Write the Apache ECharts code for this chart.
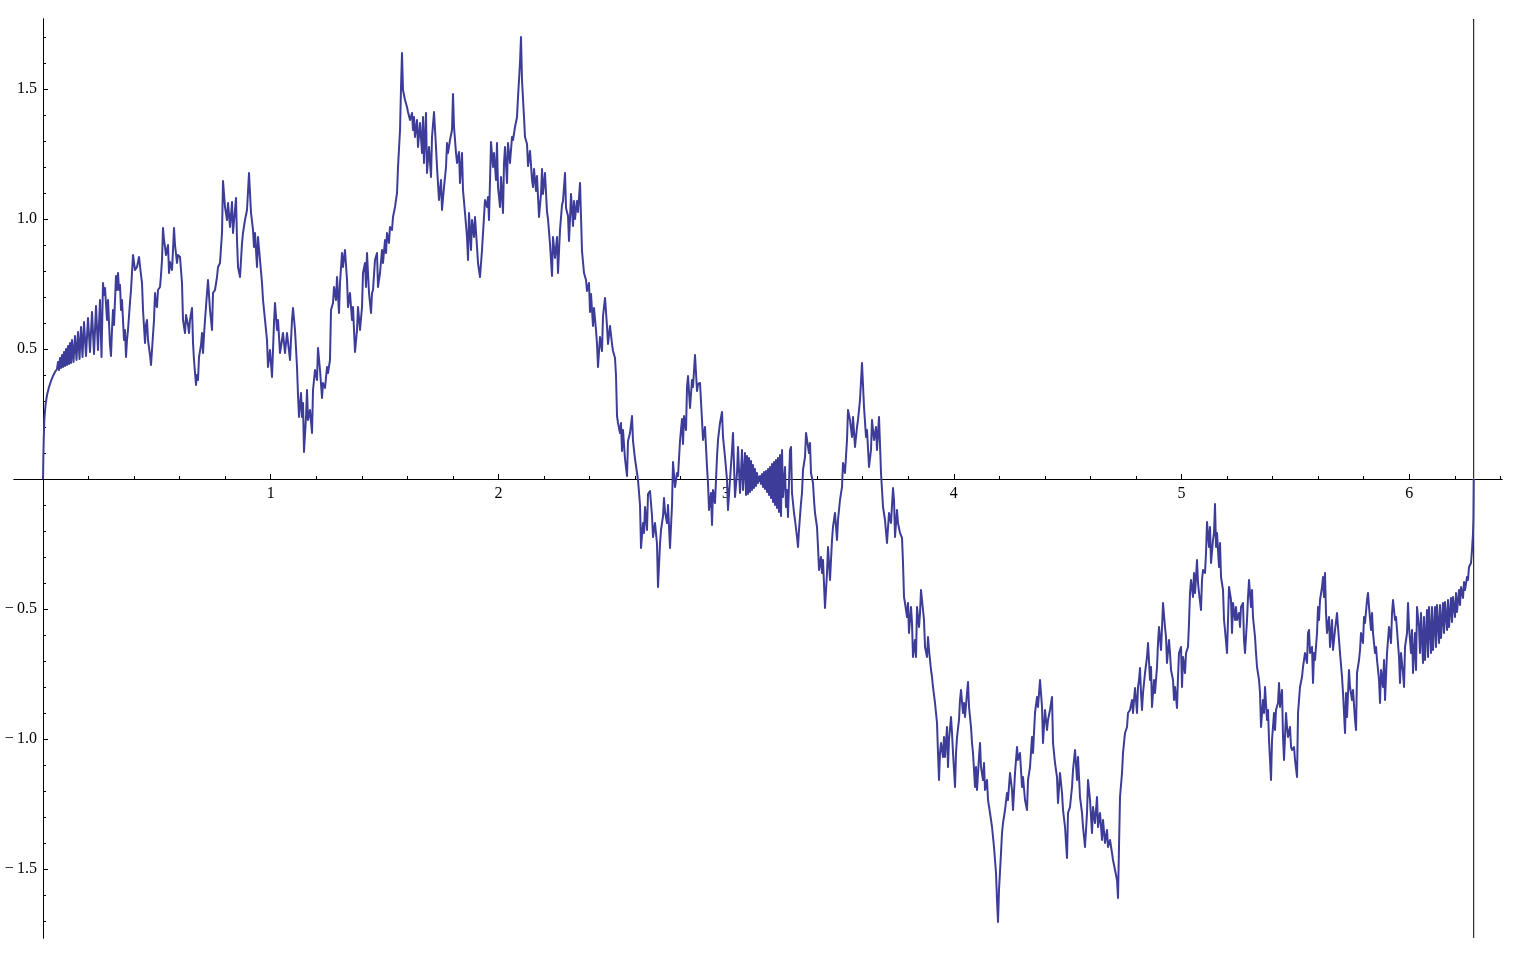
<!DOCTYPE html>
<html>
<head>
<meta charset="utf-8">
<script src="https://cdn.jsdelivr.net/npm/echarts@6/dist/echarts.min.js"></script>
<style>
html,body{margin:0;padding:0;background:#ffffff;}
#chart{width:1515px;height:954px;}
</style>
</head>
<body>
<div id="chart"></div>
<script>
// Axis extents (data units) and tick values
const xRange = [-0.1274, 6.4075];
const yRange = [-1.7654, 1.7692];
const xMajorTicks = [1, 2, 3, 4, 5, 6];
const xMinorTicks = [0.2,0.4,0.6,0.8,1.2,1.4,1.6,1.8,2.2,2.4,2.6,2.8,3.2,3.4,3.6,3.8,4.2,4.4,4.6,4.8,5.2,5.4,5.6,5.8,6.2,6.4];
const yMajorTicks = [-1.5, -1.0, -0.5, 0.5, 1.0, 1.5];
const yMinorTicks = [-1.7,-1.6,-1.4,-1.3,-1.2,-1.1,-0.9,-0.8,-0.7,-0.6,-0.4,-0.3,-0.2,-0.1,0.1,0.2,0.3,0.4,0.6,0.7,0.8,0.9,1.1,1.2,1.3,1.4,1.6,1.7];
const markerX = 6.283185; // vertical line at 2π

// Curve values, in pieces from left to right
const curveA = [[0,0],[.0013,.0731],[.0031,.15],[.0057,.2269],[.0110,.2846],[.0176,.3231],[.0264,.3538],[.0351,.3769],[.0439,.3962],[.0527,.4115],
[.0615,.4231],[.0659,.45],[.0703,.4192],[.0747,.4654],[.0791,.4269],[.0834,.4769],[.0878,.4308],[.0922,.4885],[.0966,.4346],[.1010,.5],
[.1054,.4385],[.1098,.5115],[.1142,.4423],[.1186,.5231],[.1230,.4462],[.1274,.5346],[.1339,.45],[.1405,.55],[.1471,.4577],[.1537,.5654],
[.1603,.4615],[.1669,.5846],[.1735,.4692],[.1801,.6038],[.1888,.4731],[.1976,.6192],[.2064,.4885],[.2152,.6423],[.2240,.4808],[.2328,.6654],
[.2415,.4962],[.2503,.6885],[.2569,.4692],[.2635,.7538],[.2679,.7077],[.2723,.7346],[.2811,.6115],[.2855,.6885],[.2942,.5154],[.2986,.4731],
[.3030,.5731],[.3074,.65],[.3118,.5923],[.3206,.7808],[.3250,.7269],[.3294,.7923],[.3338,.7269],[.3382,.7462],[.3426,.65],[.3469,.6885],
[.3557,.5346],[.3601,.5731],[.3645,.4692],[.3689,.5346],[.3733,.5731],[.3821,.6808],[.3865,.7269],[.3953,.8615],[.4040,.8038],[.4128,.8154],
[.4216,.8538],[.4304,.7846],[.4348,.7538],[.4392,.65],[.4480,.5231],[.4523,.5923],[.4567,.6115],[.4611,.5346],[.4699,.4769],[.4743,.4385],
[.4787,.4962],[.4875,.6115],[.4919,.7154],[.4963,.6692],[.5007,.6615],[.5050,.7269],[.5138,.7385],[.5182,.7846],[.5226,.8423],[.5270,.9654],
[.5314,.9192],[.5358,.8923],[.5402,.8615],[.5490,.9],[.5534,.7923],[.5577,.8346],[.5665,.8038],[.5709,.8808],[.5753,.9654],[.5797,.9],
[.5885,.8308],[.5929,.8615],[.6017,.8538],[.6104,.7538],[.6148,.6115],[.6236,.5615],[.6280,.6308],[.6368,.5923],[.6412,.5615],[.6456,.6115],
[.6544,.6577],[.6588,.5231],[.6631,.4577],[.6719,.3615],[.6763,.4],[.6807,.3808],[.6851,.4692],[.6939,.5154],[.6983,.5615],[.7027,.4846],
[.7071,.5538],[.7115,.6115],[.7202,.7154],[.7246,.7654],[.7334,.65],[.7422,.5731],[.7466,.7154],[.7554,.7269],[.7642,.7769],[.7686,.8154],
[.7773,.8308],[.7861,.9462],[.7905,1.1462],[.7993,1.0462],[.8081,.9962],[.8125,1.0615],[.8213,.9692],[.8300,1.0654],[.8344,.9462],[.8476,1.0808],
[.8520,.9192],[.8564,.8154],[.8652,.7769],[.8740,.9077],[.8783,.9462],[.8871,.9962],[.8959,1.0346],[.9047,1.1769],[.9135,1.0231],[.9223,.9577],
[.9266,.8923],[.9310,.9462],[.9398,.8154],[.9442,.9308],[.9530,.8423],[.9618,.7538],[.9662,.6885],[.9750,.6115],[.9837,.5346],[.9881,.4308],
[.9969,.4962],[1.0057,.3923],[1.0145,.6],[1.0189,.6769],[1.0277,.5731],[1.0321,.6115],[1.0408,.4846],[1.0540,.5615],[1.0628,.4846],[1.0716,.5615],
[1.0848,.4577],[1.0935,.6115],[1.0979,.6577],[1.1067,.5731],[1.1155,.4308],[1.1199,.3231],[1.1243,.2385]];

const curveB = [[1.1331,.3308],[1.1375,.2385],[1.1419,.2923],[1.1462,.1038],[1.1550,.2385],[1.1594,.3423],[1.1638,.2269],[1.1726,.2654],[1.1814,.1769],[1.1858,.3423],
[1.1946,.4192],[1.2033,.3808],[1.2077,.5038],[1.2165,.4192],[1.2253,.3115],[1.2297,.3692],[1.2385,.35],[1.2473,.4308],[1.2516,.4077],[1.2604,.4577],
[1.2648,.65],[1.2736,.6769],[1.2780,.7385],[1.2868,.6885],[1.2912,.7769],[1.2999,.6385],[1.3043,.7538],[1.3131,.8692],[1.3175,.8154],[1.3263,.8808],
[1.3351,.7654],[1.3395,.6615],[1.3482,.7154],[1.3570,.6115],[1.3614,.6615],[1.3702,.4885],[1.3790,.5731],[1.3834,.6615],[1.3922,.5731],[1.4010,.6615],
[1.4053,.7923],[1.4141,.8308],[1.4185,.7385],[1.4229,.8692],[1.4317,.7154],[1.4405,.6385],[1.4449,.7154],[1.4493,.7269],[1.4580,.8423],[1.4668,.8692],
[1.4712,.7385],[1.4800,.7923],[1.4888,.8808],[1.4932,.8308],[1.5020,.9192],[1.5064,.8692],[1.5108,.9462],[1.5195,.9077],[1.5239,.9692],[1.5327,.9577],
[1.5371,1.0077],[1.5459,1.0462],[1.5547,1.1],[1.5591,1.2],[1.5679,1.3423],[1.5723,1.5077],[1.5766,1.6385],[1.5810,1.4962],[1.5898,1.4577],[1.5986,1.4308],
[1.6030,1.4115],[1.6118,1.3808],[1.6206,1.4077],[1.6249,1.3423],[1.6293,1.3923],[1.6337,1.3154],[1.6425,1.3808],[1.6469,1.2769],[1.6557,1.3692],[1.6645,1.2538],
[1.6689,1.3923],[1.6732,1.2154],[1.6820,1.4077],[1.6864,1.1769],[1.6952,1.2769],[1.7040,1.1615],[1.7084,1.3154],[1.7172,1.4115],[1.7259,1.2769],[1.7303,1.2],
[1.7391,1.0731],[1.7479,1.15],[1.7523,1.0346],[1.7611,1.1231],[1.7699,1.2],[1.7743,1.2923],[1.7786,1.2538],[1.7874,1.3038],[1.7962,1.3423],[1.8006,1.4808],
[1.8050,1.3538],[1.8138,1.2538],[1.8182,1.2154],[1.8270,1.2577],[1.8313,1.1385],[1.8401,1.2538],[1.8445,1.1115],[1.8533,1.0231],[1.8621,.9308],[1.8665,.8423],
[1.8709,1.0231],[1.8797,.8808],[1.8840,.9962],[1.8928,.9308],[1.8972,1.0077],[1.9060,.8923],[1.9104,.8308],[1.9192,.7769],[1.9280,.8808],[1.9324,.9462],
[1.9411,1.0731],[1.9499,1.0462],[1.9543,1.0846],[1.9587,.9962],[1.9675,1.2962],[1.9763,1.2],[1.9807,1.2538],[1.9894,1.15],[1.9938,1.2923],[1.9982,1.1231],
[2.0070,1.0462],[2.0114,1.1615],[2.0202,1.0231],[2.0246,1.2154],[2.0290,1.2769],[2.0378,1.1385],[2.0421,1.2923],[2.0509,1.2154],[2.0597,1.3154],[2.0641,1.3038],
[2.0729,1.3538],[2.0817,1.3923],[2.0861,1.4692],[2.0948,1.6],[2.0992,1.7],[2.1036,1.5346],[2.1124,1.3923]];

const curveC = [[2.1168,1.3154],[2.1256,1.2885],[2.1300,1.2038],[2.1388,1.2615],[2.1476,1.15],[2.1520,1.1231],[2.1564,1.1923],[2.1651,1.1077],[2.1695,1.1654],[2.1783,1.0077],
[2.1871,1.0962],[2.1915,1.1923],[2.1958,1.0962],[2.2046,1.1769],[2.2134,1.0269],[2.2178,1.0],[2.2266,.9038],[2.2354,.7808],[2.2398,.9308],[2.2486,.85],
[2.2574,.9308],[2.2617,.7923],[2.2705,.9577],[2.2793,1.0538],[2.2837,1.0692],[2.2925,1.1769],[2.2969,1.0423],[2.3057,1.0115],[2.3100,.9154],[2.3144,1.0],
[2.3188,1.0962],[2.3276,.9731],[2.3320,1.0692],[2.3364,1.0],[2.3452,1.0692],[2.3496,1.0269],[2.3584,1.1385],[2.3627,1.0115],[2.3671,.8769],[2.3759,.7923],
[2.3847,.7654],[2.3891,.7231],[2.3979,.7538],[2.4023,.6423],[2.4067,.7115],[2.4154,.5885],[2.4198,.6577],[2.4286,.5731],[2.4330,.5192],[2.4374,.4308],
[2.4462,.5462],[2.4550,.4923],[2.4594,.6269],[2.4682,.6962],[2.4769,.5885],[2.4813,.5192],[2.4901,.5885],[2.4989,.5192],[2.5033,.4923],[2.5121,.4654],
[2.5165,.3962],[2.5209,.2423],[2.5253,.2154],[2.5340,.1769],[2.5384,.2154],[2.5428,.1077],[2.5472,.1885],[2.5560,.0769],[2.5648,.0115],[2.5692,.1462],
[2.5780,.1769],[2.5867,.2423],[2.5911,.1462],[2.5999,.0769],[2.6087,.0231],[2.6131,-.0038],[2.6219,-.1],[2.6263,-.2654],[2.6350,-.1692],[2.6394,-.2077],
[2.6438,-.1077],[2.6526,-.1962],[2.6570,-.0577],[2.6658,-.0462],[2.6746,-.1423],[2.6790,-.2231],[2.6877,-.1692],[2.6965,-.25],[2.7009,-.4154],[2.7097,-.25],
[2.7141,-.1962],[2.7229,-.1423],[2.7273,-.0731],[2.7317,-.1269],[2.7404,-.1692],[2.7448,-.1],[2.7536,-.2654],[2.7624,-.1],[2.7668,.0654],[2.7756,-.0308],
[2.7844,.0231],[2.7888,.0115],[2.7975,.1462],[2.8063,.2308],[2.8107,.1346],[2.8151,.2423],[2.8239,.1885],[2.8283,.3538],[2.8327,.3962],[2.8415,.2731],
[2.8502,.3808],[2.8546,.3538],[2.8634,.4769],[2.8722,.3385],[2.8766,.3654]];

const curveD = [[2.8854,.3692],[2.8941,.2269],[2.8985,.15],[2.9073,.2],[2.9161,.0462],[2.9205,-.0154],[2.9249,-.1192],[2.9337,-.0538],[2.9381,-.1769],[2.9425,-.0423],
[2.9512,-.0923],[2.9600,.0846],[2.9644,.15],[2.9732,.2154],[2.9820,.2577],[2.9864,.1615],[2.9952,.0846],[3.0040,-.0038],[3.0083,-.1192],[3.0171,-.0038],
[3.0259,.1115],[3.0303,.1769],[3.0391,-.0692],[3.0479,.0231],[3.0523,.1231],[3.0610,-.0538],[3.0698,.1115],[3.0742,-.0423],[3.0830,.1],[3.0874,-.0615],
[3.0918,.0885],[3.0962,-.0577],[3.1006,.0808],[3.1050,-.05],[3.1093,.0692],[3.1137,-.0423],[3.1181,.0538],[3.1225,-.0346],[3.1269,.0385],[3.1313,-.0269],
[3.1357,.0231],[3.1401,-.0154],[3.1423,.0077],[3.1445,-.0077],[3.1489,.0115],[3.1533,-.0192],[3.1577,.0192],[3.1621,-.0308],[3.1665,.0269],[3.1708,-.0385],
[3.1752,.0308],[3.1796,-.05],[3.1840,.0385],[3.1884,-.0615],[3.1928,.0462],[3.1972,-.0731],[3.2016,.0577],[3.2060,-.0885],[3.2104,.0654],[3.2147,-.1],
[3.2191,.0731],[3.2235,-.1115],[3.2279,.0808],[3.2323,-.1269],[3.2367,.0923],[3.2411,-.1423],
[3.2455,.1115],[3.2499,-.0692],[3.2587,.0462],[3.2630,-.1077],[3.2674,-.0423],[3.2718,-.1462],[3.2806,.1115],[3.2850,.1231],[3.2894,-.0538],[3.2982,-.1308],
[3.3026,-.1577],[3.3113,-.2231],[3.3157,-.2615],[3.3201,-.1962],[3.3289,-.0923],[3.3333,-.0538],[3.3377,.0346],[3.3465,.0846],[3.3509,.1769],[3.3553,.1808],
[3.3640,.1],[3.3684,.1385],[3.3728,.0231],[3.3816,-.0154],[3.3860,-.0808],[3.3904,-.1308],[3.3992,-.1846],[3.4036,-.2615],[3.4080,-.35],[3.4167,-.3],
[3.4211,-.3615],[3.4255,-.3115],[3.4343,-.4962],[3.4431,-.3615],[3.4475,-.2615],[3.4563,-.3885],[3.4651,-.2346],[3.4694,-.1846],[3.4782,-.1308],[3.4870,-.2346],
[3.4914,-.1577],[3.5002,-.0808],[3.5090,-.0308],[3.5134,.0615],[3.5221,.0231],[3.5309,.15],[3.5353,.2654],[3.5441,.2269],[3.5529,.1615],[3.5573,.2385],
[3.5661,.1231],[3.5749,.2],[3.5792,.2269],[3.5880,.3038],[3.5968,.4462],[3.6056,.2769],[3.6144,.1615],[3.6188,.1885],[3.6276,.0462],[3.6363,.1115],
[3.6407,.2269],[3.6495,.15],[3.6583,.2],[3.6627,.1115],[3.6715,.2385],[3.6803,.0231]];

const curveE = [[3.6891,-.1077],[3.6978,-.1577],[3.7066,-.2462],[3.7154,-.1308],[3.7242,-.1692],[3.7330,-.0346],[3.7374,-.0808],[3.7418,-.2231],[3.7505,-.1192],[3.7549,-.1692],
[3.7637,-.2077],[3.7725,-.2269],[3.7769,-.3231],[3.7813,-.4538],[3.7857,-.4769],[3.7945,-.5308],[3.7989,-.4769],[3.8032,-.5923],[3.8120,-.4923],[3.8164,-.5538],
[3.8208,-.6846],[3.8296,-.6192],[3.8340,-.6846],[3.8384,-.4923],[3.8472,-.5692],[3.8516,-.5154],[3.8559,-.4269],[3.8647,-.5038],[3.8691,-.5423],[3.8735,-.6462],
[3.8823,-.6846],[3.8867,-.6077],[3.8911,-.6577],[3.8999,-.7346],[3.9043,-.7615],[3.9086,-.8],[3.9174,-.8615],[3.9262,-.9385],[3.9306,-1.0538],[3.9350,-1.1577],
[3.9394,-1.0538],[3.9438,-1.0154],[3.9525,-1.0692],[3.9569,-.9923],[3.9613,-1.0692],[3.9701,-.9538],[3.9745,-1.1077],[3.9789,-1.0038],[3.9877,-.9154],[3.9921,-.9769],
[3.9965,-1.0538],[4.0053,-1.1846],[4.0097,-1.0538],[4.0141,-.9923],[4.0228,-.9269],[4.0272,-.85],[4.0316,-.8115],[4.0404,-.9],[4.0448,-.8615],[4.0492,-.9154],
[4.0580,-.8231],[4.0624,-.7808],[4.0668,-.8769],[4.0755,-.9538],[4.0799,-1.0154],[4.0843,-1.0538],[4.0931,-1.1846],[4.0975,-1.1077],[4.1019,-1.1962],[4.1107,-1.0692],
[4.1151,-1.0154],[4.1194,-1.1077],[4.1282,-1.1577],[4.1326,-1.0923],[4.1370,-1.1962],[4.1458,-1.1577],[4.1502,-1.2346],[4.1590,-1.2846],[4.1678,-1.3385],[4.1765,-1.4154],
[4.1853,-1.5154],[4.1897,-1.6192],[4.1941,-1.7038],[4.1985,-1.5808],[4.2073,-1.4385],[4.2117,-1.3615],[4.2161,-1.3231],[4.2249,-1.2731],[4.2336,-1.2077],[4.2380,-1.2346],
[4.2468,-1.1308],[4.2556,-1.1962],[4.2600,-1.2731],[4.2688,-1.1308],[4.2776,-1.0308],[4.2819,-1.0808],[4.2907,-1.0538],[4.2995,-1.1846],[4.3039,-1.1462],[4.3127,-1.2346],
[4.3215,-1.2731],[4.3259,-1.1577],[4.3347,-1.1077],[4.3434,-.9923],[4.3478,-1.0538],[4.3566,-.9],[4.3654,-.8385],[4.3698,-.8769],[4.3786,-.7731],[4.3874,-.8769],
[4.3917,-1.0154],[4.4005,-.8885],[4.4093,-.9654],[4.4137,-.9269],[4.4225,-.8885],[4.4313,-.8385],[4.4357,-1.0154],[4.4444,-1.0923],[4.4532,-1.1462],[4.4576,-1.2462],
[4.4664,-1.1308],[4.4752,-1.2077],[4.4796,-1.2731],[4.4884,-1.3385],[4.4971,-1.4577],[4.5015,-1.2846],[4.5103,-1.2615],[4.5191,-1.1846],[4.5235,-1.1192],[4.5323,-1.0423],
[4.5411,-1.1577],[4.5455,-1.0692],[4.5542,-1.2231],[4.5630,-1.2846],[4.5674,-1.3385],[4.5762,-1.4154],[4.5850,-1.2846],[4.5894,-1.1577],[4.5982,-1.2346],[4.6069,-1.3615],
[4.6113,-1.2615],[4.6201,-1.3231],[4.6289,-1.2231],[4.6333,-1.3385],[4.6421,-1.2846],[4.6509,-1.3885],[4.6553,-1.3115],[4.6640,-1.4],[4.6728,-1.35],[4.6772,-1.4154],
[4.6860,-1.3885],[4.6948,-1.4385],[4.6992,-1.4654],[4.7080,-1.5038],[4.7167,-1.5423],[4.7211,-1.6115],[4.7255,-1.4154],[4.7299,-1.2231],[4.7387,-1.1308],[4.7431,-1.0538]];

const curveF = [[4.7519,-.9769],[4.7607,-.9538],[4.7650,-.9],[4.7738,-.8885],[4.7826,-.85],[4.7870,-.9],[4.7958,-.8038],[4.8046,-.9],[4.8090,-.8],[4.8134,-.7731],
[4.8177,-.7269],[4.8221,-.8231],[4.8265,-.8885],[4.8309,-.8231],[4.8397,-.7462],[4.8485,-.6846],[4.8529,-.6308],[4.8617,-.7731],[4.8661,-.7231],[4.8704,-.8769],
[4.8792,-.7731],[4.8836,-.8231],[4.8924,-.7231],[4.8968,-.6308],[4.9012,-.5692],[4.9100,-.6577],[4.9144,-.5692],[4.9188,-.4769],[4.9275,-.5692],[4.9319,-.6077],
[4.9363,-.7077],[4.9451,-.6192],[4.9495,-.6692],[4.9539,-.7346],[4.9627,-.7731],[4.9671,-.85],[4.9715,-.8],[4.9802,-.8808],[4.9846,-.7615],[4.9890,-.6692],
[4.9978,-.6462],[5.0022,-.8],[5.0066,-.6846],[5.0154,-.7462],[5.0198,-.6692],[5.0285,-.6462],[5.0329,-.5538],[5.0373,-.4385],[5.0417,-.3885],[5.0505,-.4538],
[5.0549,-.3615],[5.0593,-.4385],[5.0681,-.3115],[5.0725,-.4],[5.0769,-.4385],[5.0856,-.5038],[5.0900,-.3885],[5.0944,-.35],[5.1032,-.3615],[5.1076,-.2846],
[5.1120,-.1654],[5.1208,-.2615],[5.1252,-.1846],[5.1296,-.3231],[5.1383,-.2346],[5.1427,-.2077],[5.1471,-.0962],[5.1515,-.2615],[5.1559,-.2077],[5.1647,-.3385],
[5.1691,-.2462],[5.1735,-.3769],[5.1823,-.4269],[5.1867,-.5423],[5.1910,-.5808],[5.1998,-.6692],[5.2042,-.5423],[5.2086,-.4154],[5.2174,-.4654],[5.2218,-.5923],
[5.2262,-.4769],[5.2350,-.5423],[5.2394,-.4923],[5.2437,-.5423],[5.2525,-.5154],[5.2569,-.5692],[5.2613,-.4923],[5.2700,-.4769],[5.2745,-.6192],[5.2789,-.6692],
[5.2877,-.5423],[5.2921,-.4538],[5.2965,-.3885],[5.3052,-.4923],[5.3096,-.4269],[5.3140,-.5308],[5.3228,-.6077],[5.3272,-.6692],[5.3316,-.7231],[5.3404,-.7731],
[5.3448,-.8231],[5.3492,-.9538],[5.3579,-.85],[5.3623,-.9],[5.3667,-.8],[5.3755,-.9269],[5.3799,-.8885],[5.3843,-1.0038],[5.3931,-1.1577],[5.3975,-1.0038],
[5.4063,-.9],[5.4106,-.9654],[5.4150,-.8885],[5.4238,-.8615],[5.4282,-.7846],[5.4326,-.8769],[5.4414,-.8115],[5.4458,-.9923],[5.4502,-1.0808],[5.4590,-.9],
[5.4633,-.9538],[5.4677,-.9923],[5.4765,-.9538],[5.4809,-1.0308],[5.4853,-1.0423],[5.4941,-1.0308],[5.4985,-1.0808],[5.5073,-1.1462],[5.5117,-.9]];

const curveG = [[5.5204,-.8],[5.5292,-.7615],[5.5336,-.7231],[5.5424,-.6692],[5.5512,-.7077],[5.5556,-.5923],[5.5600,-.5808],[5.5644,-.6692],[5.5731,-.6462],[5.5775,-.7846],
[5.5819,-.6692],[5.5863,-.6962],[5.5951,-.5923],[5.5995,-.4923],[5.6039,-.5423],[5.6083,-.4654],[5.6171,-.4154],[5.6215,-.3769],[5.6258,-.4538],[5.6302,-.3615],
[5.6346,-.5154],[5.6390,-.5923],[5.6478,-.5308],[5.6522,-.6462],[5.6610,-.5423],[5.6654,-.6577],[5.6742,-.5808],[5.6829,-.5154],[5.6873,-.5692],[5.6961,-.6692],
[5.7049,-.7615],[5.7093,-.8231],[5.7181,-.9769],[5.7225,-.8231],[5.7269,-.9154],[5.7356,-.7346],[5.7400,-.8],[5.7488,-.85],[5.7532,-.8115],[5.7620,-.9269],
[5.7664,-.9654],[5.7708,-.7462],[5.7796,-.6962],[5.7840,-.6577],[5.7883,-.5923],[5.7971,-.6308],[5.8015,-.5308],[5.8059,-.5538],[5.8147,-.4654],[5.8191,-.4385],
[5.8235,-.4923],[5.8323,-.5808],[5.8367,-.5154],[5.8410,-.5923],[5.8498,-.6692],[5.8542,-.6462],[5.8586,-.6962],[5.8674,-.7731],[5.8718,-.8615],[5.8762,-.7346],
[5.8850,-.8],[5.8894,-.6962],[5.8938,-.85],[5.9025,-.6692],[5.9069,-.6192],[5.9113,-.5692],[5.9201,-.6308],[5.9245,-.5154],[5.9289,-.4654],[5.9377,-.5423],
[5.9421,-.5308],[5.9464,-.5808],[5.9552,-.6846],[5.9596,-.7846],[5.9640,-.6692],[5.9728,-.7462],[5.9772,-.8],[5.9816,-.6462],[5.9904,-.5923],[5.9948,-.4769],
[5.9991,-.5692],[6.0079,-.6692],[6.0123,-.5808],[6.0167,-.7462],[6.0255,-.5923],[6.0299,-.7346],[6.0343,-.4923],[6.0431,-.5692],[6.0474,-.6692],[6.0518,-.5154],
[6.0606,-.7077],[6.0650,-.5308],[6.0694,-.6962],[6.0782,-.5038],[6.0826,-.6846],[6.0870,-.4923],[6.0958,-.6692],[6.1001,-.4923],[6.1045,-.6577],[6.1133,-.4923],
[6.1177,-.6462],[6.1221,-.4846],[6.1309,-.6308],[6.1353,-.4846],[6.1397,-.6115],[6.1484,-.4769],[6.1528,-.5923],[6.1572,-.4731],[6.1660,-.5808],[6.1704,-.4654],
[6.1748,-.5692],[6.1836,-.4577],[6.1880,-.55],[6.1924,-.4538],[6.2011,-.5308],[6.2055,-.4385],[6.2099,-.5115],[6.2187,-.4269],[6.2231,-.4846],[6.2275,-.4154],
[6.2363,-.4577],[6.2407,-.3962],[6.2451,-.4269],[6.2538,-.3769],[6.2582,-.3885],[6.2626,-.3385],[6.2714,-.3231],[6.2758,-.2731],[6.2802,-.2077],[6.2820,-.15],
[6.2832,0]];

const curve = [].concat(curveA, curveB, curveC, curveD, curveE, curveF, curveG);

const FONT = '"Liberation Serif", "Times New Roman", serif';
const AXIS_COLOR = '#000000';
const CURVE_COLOR = '#3d3d99';

// Layout of the plotting frame (pixels)
const GRID = {left: 14, right: 13, top: 19, bottom: 16};
const W = 1515, H = 954;

function yFmt(v) {
  const s = Math.abs(v).toFixed(1);
  return v < 0 ? '\u2212\u2009' + s : s;
}

const chart = echarts.init(document.getElementById('chart'), null, {renderer: 'canvas', width: W, height: H});

// Place axes on the zero lines by offsetting from the frame edges
const plotW = W - GRID.left - GRID.right;
const plotH = H - GRID.top - GRID.bottom;
const zeroFromBottom = plotH * (0 - yRange[0]) / (yRange[1] - yRange[0]);
const zeroFromLeft = plotW * (0 - xRange[0]) / (xRange[1] - xRange[0]);
const xOffset = -zeroFromBottom;
const yOffset = -zeroFromLeft;

const baseX = {
  type: 'value', min: xRange[0], max: xRange[1], position: 'bottom', offset: xOffset,
  splitLine: {show: false},
  axisLine: {show: true, onZero: false, lineStyle: {color: AXIS_COLOR, width: 1}}
};
const baseY = {
  type: 'value', min: yRange[0], max: yRange[1], position: 'left', offset: yOffset,
  splitLine: {show: false},
  axisLine: {show: true, onZero: false, lineStyle: {color: AXIS_COLOR, width: 1}}
};

chart.setOption({
  animation: false,
  backgroundColor: '#ffffff',
  grid: {left: GRID.left, right: GRID.right, top: GRID.top, bottom: GRID.bottom, containLabel: false, outerBoundsMode: 'none'},
  xAxis: [
    Object.assign({}, baseX, {
      axisTick: {show: true, inside: true, length: 5, customValues: xMajorTicks, lineStyle: {color: AXIS_COLOR, width: 1}},
      axisLabel: {show: true, customValues: xMajorTicks, margin: 7, color: '#000', fontFamily: FONT, fontSize: 16}
    }),
    Object.assign({}, baseX, {
      axisTick: {show: true, inside: true, length: 3, customValues: xMinorTicks, lineStyle: {color: AXIS_COLOR, width: 1}},
      axisLabel: {show: false}
    })
  ],
  yAxis: [
    Object.assign({}, baseY, {
      axisTick: {show: true, inside: true, length: 5, customValues: yMajorTicks, lineStyle: {color: AXIS_COLOR, width: 1}},
      axisLabel: {show: true, customValues: yMajorTicks, margin: 6, color: '#000', fontFamily: FONT, fontSize: 16, formatter: yFmt}
    }),
    Object.assign({}, baseY, {
      axisTick: {show: true, inside: true, length: 3, customValues: yMinorTicks, lineStyle: {color: AXIS_COLOR, width: 1}},
      axisLabel: {show: false}
    })
  ],
  series: [
    {
      type: 'line', xAxisIndex: 0, yAxisIndex: 0,
      data: [[markerX, yRange[0]], [markerX, yRange[1]]],
      symbol: 'none', silent: true,
      lineStyle: {color: AXIS_COLOR, width: 1}
    },
    {
      type: 'line', xAxisIndex: 0, yAxisIndex: 0,
      data: curve,
      symbol: 'none', showSymbol: false, smooth: false, sampling: null,
      lineStyle: {color: CURVE_COLOR, width: 2, join: 'round'}
    }
  ]
});
</script>
</body>
</html>
